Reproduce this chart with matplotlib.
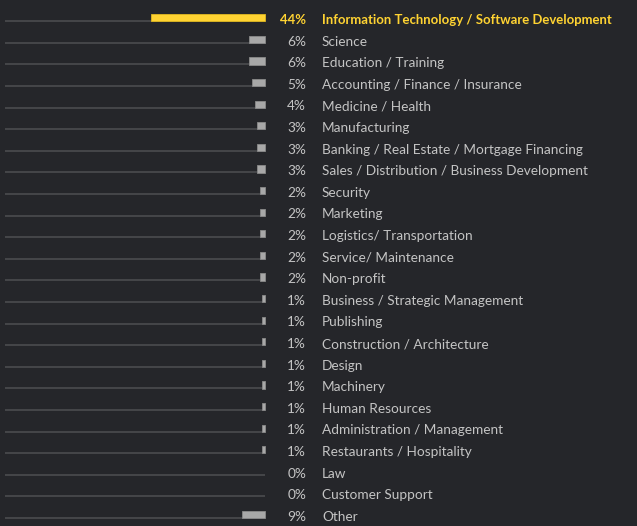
import matplotlib
matplotlib.use("Agg")
import matplotlib.pyplot as plt

categories = [
    "Information Technology / Software Development", "Science", "Education / Training",
    "Accounting / Finance / Insurance", "Medicine / Health", "Manufacturing",
    "Banking / Real Estate / Mortgage Financing", "Sales / Distribution / Business Development",
    "Security", "Marketing", "Logistics/ Transportation", "Service/ Maintenance", "Non-profit",
    "Business / Strategic Management", "Publishing", "Construction / Architecture", "Design",
    "Machinery", "Human Resources", "Administration / Management", "Restaurants / Hospitality",
    "Law", "Customer Support", "Other",
]
values = [44, 6, 6, 5, 4, 3, 3, 3, 2, 2, 2, 2, 2, 1, 1, 1, 1, 1, 1, 1, 1, 0, 0, 9]
labels = [f"{v}%" for v in values]

BG = "#25262a"
GRAY_TXT = "#c4c4c4"
YELLOW = "#ffd332"
BAR_GRAY = "#a8a8a8"
LINE = "#48494c"

W, H = 637, 526
fig = plt.figure(figsize=(W / 100, H / 100), dpi=100, facecolor=BG)
ax = fig.add_axes([0, 0, 1, 1])
ax.set_facecolor(BG)
ax.axis("off")

pxu = 2.6          # pixels per percent
x0 = 265           # pixel of zero
row0, rowh = 19.3, 21.6
ax.set_xlim(-x0 / pxu, (W - x0) / pxu)
ax.set_ylim((H - row0) / rowh, -row0 / rowh)

def py(p):
    return p / rowh

n = len(values)
ys = list(range(n))

# baselines
for y in ys:
    ax.plot([-100, 0], [y + py(1.8), y + py(1.8)], color=LINE, lw=1.3, solid_capstyle="butt", zorder=1)

colors = [YELLOW if i == 0 else BAR_GRAY for i in range(n)]
edges = ["#e0b820" if i == 0 else "#8a8a8a" for i in range(n)]
lws = [0.6 if v > 0 else 0 for v in values]
ax.barh([y - py(1.5) for y in ys], [-v for v in values], height=py(7.2), left=0,
        color=colors, edgecolor=edges, linewidth=lws, zorder=2)

fam = "Lato"
fig.canvas.draw()
r = fig.canvas.get_renderer()
t = ax.text(0, 0, "Banking / Real Estate / Mortgage Financing", fontsize=10, family=fam)
w = t.get_window_extent(r).width
reg = 10 * 260 / w
t.remove()
t = ax.text(0, 0, categories[0], fontsize=10, family=fam, fontweight="bold")
w = t.get_window_extent(r).width
bold = 10 * 290 / w
t.remove()

for i, (y, c, l) in enumerate(zip(ys, categories, labels)):
    hi = i == 0
    col = YELLOW if hi else GRAY_TXT
    fw = "bold" if hi else "normal"
    fs = bold if hi else reg
    ax.text((306 - x0) / pxu, y + py(4.8), l, ha="right", va="baseline", color=col,
            fontsize=fs, fontweight=fw, family=fam)
    ax.text((322 - x0) / pxu, y + py(4.8), c, ha="left", va="baseline", color=col,
            fontsize=fs, fontweight=fw, family=fam)

fig.savefig("out.png", dpi=100, facecolor=BG)
